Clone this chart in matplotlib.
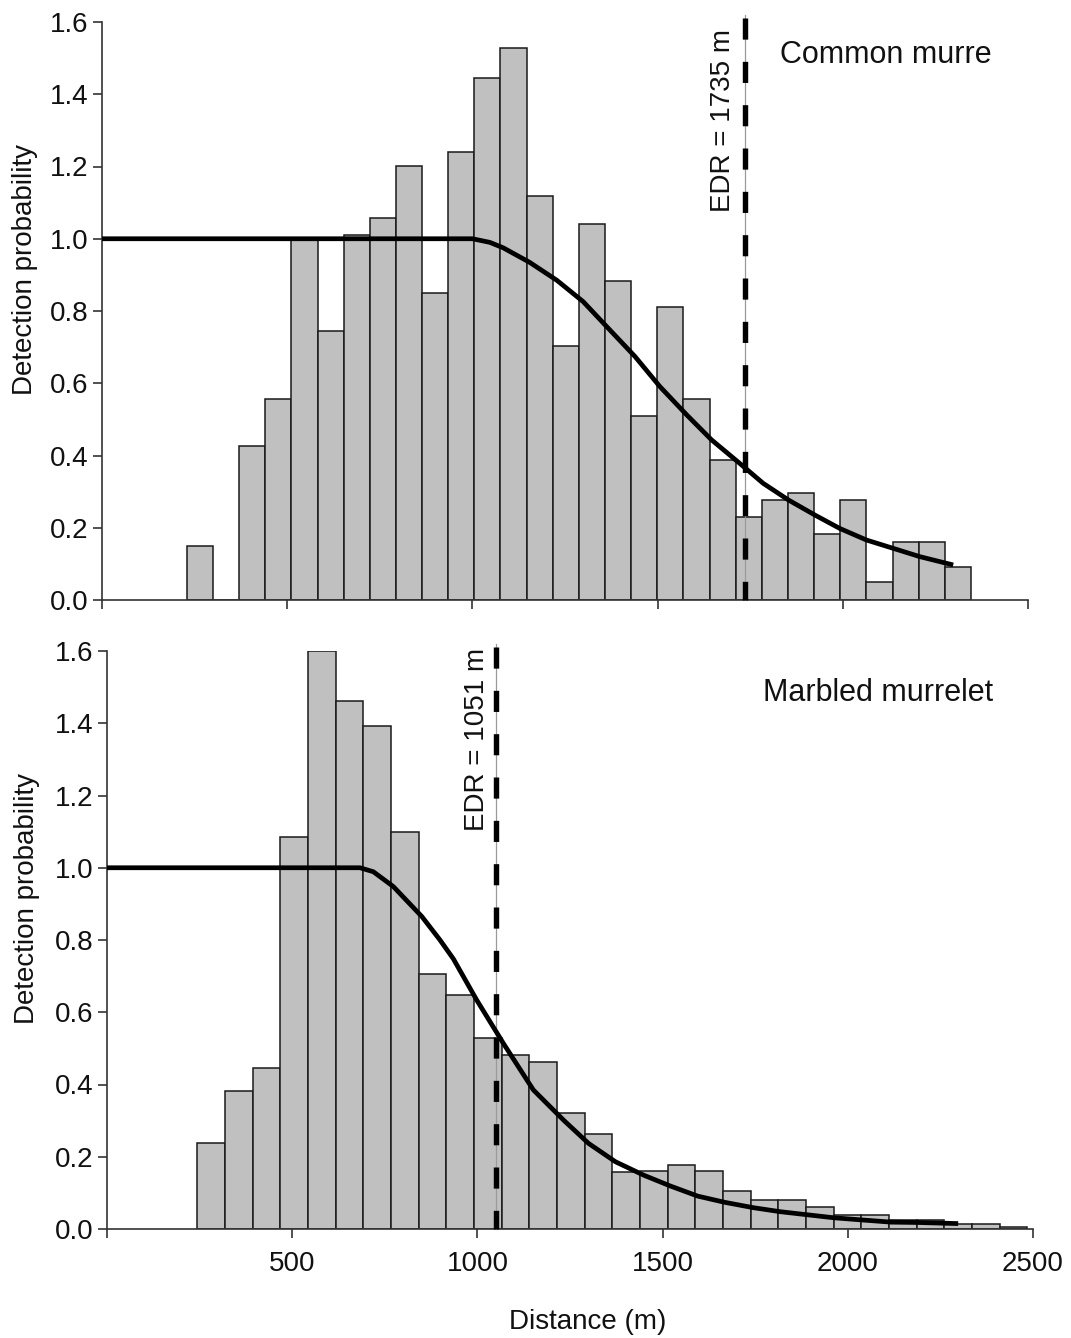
import numpy as np
import matplotlib
matplotlib.use("Agg")
import matplotlib.pyplot as plt

plt.rcParams['font.family'] = ['Liberation Sans', 'DejaVu Sans']

# ---------------- data ----------------
# Common murre (top panel)
murre_bin_start = 229.0
murre_bin_width = 70.57
murre_heights = [0.150, 0.0, 0.427, 0.557, 1.0, 0.745, 1.01, 1.057, 1.202, 0.849,
                 1.241, 1.444, 1.529, 1.117, 0.704, 1.040, 0.884, 0.509, 0.810, 0.557,
                 0.388, 0.231, 0.277, 0.297, 0.182, 0.277, 0.050, 0.160, 0.160, 0.091]
murre_curve_x = [0, 1000, 1047, 1083, 1154, 1228, 1299, 1367, 1439, 1506, 1579, 1646,
                 1722, 1785, 1853, 1925, 1992, 2064, 2136, 2208, 2298]
murre_curve_y = [1.0, 1.0, 0.990, 0.975, 0.935, 0.885, 0.826, 0.752, 0.674, 0.591, 0.512,
                 0.443, 0.378, 0.323, 0.277, 0.235, 0.198, 0.166, 0.143, 0.120, 0.097]
murre_edr = 1735
murre_name = "Common murre"

# Marbled murrelet (bottom panel)
murrelet_bin_start = 244.0
murrelet_bin_width = 74.7
murrelet_heights = [0.237, 0.383, 0.445, 1.086, 1.600, 1.462, 1.392, 1.100, 0.705, 0.648,
                    0.528, 0.482, 0.461, 0.320, 0.262, 0.159, 0.161, 0.176, 0.161, 0.105,
                    0.080, 0.080, 0.061, 0.039, 0.040, 0.025, 0.025, 0.014, 0.014, 0.005]
murrelet_curve_x = [0, 683, 719, 773, 850, 899, 935, 998, 1070, 1151, 1232, 1300, 1373,
                    1449, 1521, 1595, 1667, 1745, 1817, 1894, 1963, 2039, 2117, 2190, 2298]
murrelet_curve_y = [1.0, 1.0, 0.989, 0.948, 0.865, 0.800, 0.748, 0.634, 0.514, 0.385,
                    0.302, 0.237, 0.186, 0.149, 0.119, 0.091, 0.074, 0.059, 0.048, 0.039,
                    0.031, 0.025, 0.019, 0.018, 0.015]
murrelet_edr = 1051
murrelet_name = "Marbled murrelet"

x_ticks = [0, 500, 1000, 1500, 2000, 2500]
x_ticklabels = ["", "500", "1000", "1500", "2000", "2500"]
y_ticks = [0.0, 0.2, 0.4, 0.6, 0.8, 1.0, 1.2, 1.4, 1.6]
y_ticklabels = ["0.0", "0.2", "0.4", "0.6", "0.8", "1.0", "1.2", "1.4", "1.6"]

# ---------------- figure ----------------
W, H = 1071, 1338
fig = plt.figure(figsize=(W / 100, H / 100), dpi=100)

ax_top = fig.add_axes([102 / W, 1 - 600 / H, 926 / W, 578 / H])
ax_bot = fig.add_axes([107 / W, 1 - 1229 / H, 926 / W, 578 / H])

spine_col = '#333333'


def draw_panel(ax, start, width, heights, cx, cy, edr, name, name_xy, edr_xy,
               show_xlabels, ylab_x):
    n = len(heights)
    lefts = start + width * np.arange(n)
    ax.bar(lefts, heights, width=width, align='edge', color='#c0c0c0',
           edgecolor='#1a1a1a', linewidth=1.1, zorder=2)
    ax.plot(cx, cy, color='black', lw=3.4, zorder=4, solid_capstyle='butt',
            solid_joinstyle='round')
    # EDR line: thin grey + thick black dashes
    ax.plot([edr, edr], [1.62, 0.0], color='#9a9a9a', lw=0.9, zorder=3, clip_on=False)
    ax.plot([edr, edr], [1.61, 0.0], color='black', lw=3.9, zorder=5, clip_on=False,
            linestyle=(0, (3.9, 4.1)), dash_capstyle='butt')
    ax.text(edr_xy[0], edr_xy[1], f"EDR = {edr} m", rotation=90, ha='center',
            va='center', fontsize=20, color='#111111')
    ax.text(name_xy[0], name_xy[1], name, ha='left', va='center', fontsize=22,
            color='#111111')

    ax.set_xlim(0, 2500)
    ax.set_ylim(0, 1.6)
    ax.set_xticks(x_ticks)
    ax.set_yticks(y_ticks)
    ax.set_yticklabels(y_ticklabels)
    if show_xlabels:
        ax.set_xticklabels(x_ticklabels)
    else:
        ax.set_xticklabels([""] * len(x_ticks))
    for s in ['top', 'right']:
        ax.spines[s].set_visible(False)
    for s in ['left', 'bottom']:
        ax.spines[s].set_color(spine_col)
        ax.spines[s].set_linewidth(1.2)
    ax.tick_params(axis='both', direction='out', length=6.5, width=1.2,
                   color=spine_col, labelsize=20, labelcolor='#111111')
    ax.tick_params(axis='y', pad=3)
    ax.tick_params(axis='x', pad=9)
    ax.set_ylabel("Detection probability", fontsize=20, color='#111111')
    ax.yaxis.label.set_va('center')
    ax.yaxis.set_label_coords(ylab_x, 0.571)


draw_panel(ax_top, murre_bin_start, murre_bin_width, murre_heights,
           murre_curve_x, murre_curve_y, murre_edr, murre_name,
           (1830, 1.509), (1676, 1.326), False, -0.083)
draw_panel(ax_bot, murrelet_bin_start, murrelet_bin_width, murrelet_heights,
           murrelet_curve_x, murrelet_curve_y, murrelet_edr, murrelet_name,
           (1771, 1.484), (999, 1.354), True, -0.086)

ax_bot.set_xlabel("Distance (m)", fontsize=20, color='#111111')
ax_bot.xaxis.label.set_va('center')
ax_bot.xaxis.set_label_coords(0.519, -0.161)

fig.savefig("out.png", dpi=100, facecolor='white')
